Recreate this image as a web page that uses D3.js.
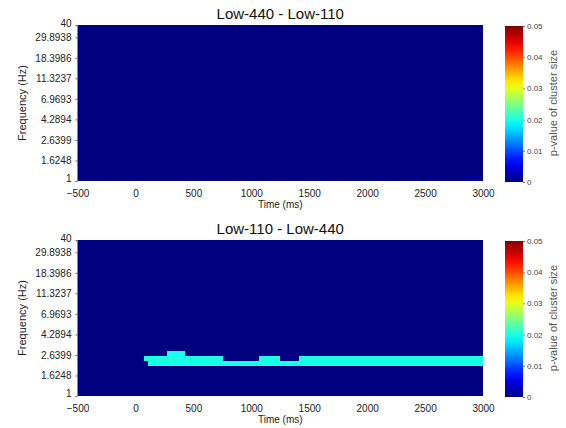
<!DOCTYPE html>
<html>
<head>
<meta charset="utf-8">
<script src="https://cdn.jsdelivr.net/npm/d3@7"></script>
<style>
  body { margin: 0; background: #fff; }
  text { font-family: "Liberation Sans", Arial, sans-serif; }
</style>
</head>
<body>
<div id="chart"></div>
<script>
// values
var titles = ["Low-440 - Low-110", "Low-110 - Low-440"];
var timeDomain = [-500, 3000];
var freqDomain = [1, 40];
var xTicks = [-500, 0, 500, 1000, 1500, 2000, 2500, 3000];
var yTicks = [1, 1.6248, 2.6399, 4.2894, 6.9693, 11.3237, 18.3986, 29.8938, 40];
var cbTicks = [0, 0.01, 0.02, 0.03, 0.04, 0.05];
var cbDomain = [0, 0.05];

// significant cluster cells (only in the second contrast)
var clusterPanel = [1, 1, 1, 1, 1];
var clusterTimeStart = [110, 70, 1070, 1410, 275];
var clusterTimeEnd = [3000, 760, 1250, 3000, 425];
var clusterFreqLow = [2.05, 2.30, 2.30, 2.30, 2.59];
var clusterFreqHigh = [2.30, 2.59, 2.59, 2.59, 2.92];
var clusterP = [0.02, 0.02, 0.02, 0.02, 0.02];

var width = 566, height = 428;
var plotLeft = 77.5, plotRight = 483, plotH = 156;
var panelTops = [25, 240];
var cbLeft = 505, cbW = 18;

// matlab "jet"
function jet(v) {
  var c = function(x) { return Math.max(0, Math.min(1, x)); };
  var r = c(1.5 - Math.abs(4 * v - 3)),
      g = c(1.5 - Math.abs(4 * v - 2)),
      b = c(1.5 - Math.abs(4 * v - 1));
  return d3.rgb(r * 255, g * 255, b * 255).formatHex();
}
var color = d3.scaleSequential(jet).domain(cbDomain);

var svg = d3.select("#chart").append("svg")
  .attr("width", width)
  .attr("height", height);

var defs = svg.append("defs");
var grad = defs.append("linearGradient")
  .attr("id", "jetgrad")
  .attr("x1", 0).attr("y1", 1).attr("x2", 0).attr("y2", 0);
d3.range(0, 1.0001, 0.05).forEach(function(t) {
  grad.append("stop").attr("offset", t).attr("stop-color", jet(t));
});

var x = d3.scaleLinear().domain(timeDomain).range([plotLeft, plotRight]);

panelTops.forEach(function(top, pi) {
  var y = d3.scaleLog().domain(freqDomain).range([top + plotH, top]);
  var g = svg.append("g");

  g.append("rect")
    .attr("x", plotLeft).attr("y", top)
    .attr("width", plotRight - plotLeft).attr("height", plotH)
    .attr("fill", color(0));

  var idx = d3.range(clusterP.length).filter(function(i) { return clusterPanel[i] === pi; });
  g.selectAll(".cell")
    .data(idx)
    .enter()
    .append("rect")
    .attr("class", "cell")
    .attr("x", function(i) { return x(clusterTimeStart[i]); })
    .attr("width", function(i) { return x(clusterTimeEnd[i]) - x(clusterTimeStart[i]); })
    .attr("y", function(i) { return y(clusterFreqHigh[i]); })
    .attr("height", function(i) { return y(clusterFreqLow[i]) - y(clusterFreqHigh[i]); })
    .attr("fill", function(i) { return color(clusterP[i]); })
    .attr("shape-rendering", "crispEdges");

  var xAxis = g.append("g")
    .attr("transform", "translate(0," + (top + plotH) + ")")
    .call(d3.axisBottom(x).tickValues(xTicks).tickSize(0).tickPadding(9)
      .tickFormat(function(d) { return d < 0 ? "\u2212" + (-d) : d; }));
  xAxis.select(".domain").remove();
  xAxis.selectAll("text").attr("font-size", 10).attr("fill", "#222");

  var yAxis = g.append("g")
    .attr("transform", "translate(" + plotLeft + ",0)")
    .call(d3.axisLeft(y).tickValues(yTicks).tickSize(2).tickPadding(4)
      .tickFormat(function(d) { return d; }));
  yAxis.select(".domain").remove();
  yAxis.selectAll("line").attr("stroke", "#666");
  yAxis.selectAll("text").attr("font-size", 10).attr("fill", "#222");
  yAxis.selectAll(".tick").filter(function(d) { return d === 40; })
    .select("text").attr("dy", "0.1em");
  yAxis.selectAll(".tick").filter(function(d) { return d === 1; })
    .select("text").attr("dy", "0.05em");

  g.append("text")
    .attr("x", (plotLeft + plotRight) / 2)
    .attr("y", top - 6)
    .attr("text-anchor", "middle")
    .attr("font-size", 15)
    .attr("fill", "#111")
    .text(titles[pi]);

  g.append("text")
    .attr("x", (plotLeft + plotRight) / 2)
    .attr("y", top + plotH + 27)
    .attr("text-anchor", "middle")
    .attr("font-size", 10)
    .attr("fill", "#222")
    .text("Time (ms)");

  g.append("text")
    .attr("transform", "translate(26," + (top + plotH / 2) + ") rotate(-90)")
    .attr("text-anchor", "middle")
    .attr("font-size", 11)
    .attr("fill", "#222")
    .text("Frequency (Hz)");

  // colorbar
  var cy = d3.scaleLinear().domain(cbDomain).range([top + plotH + 1, top + 1]);
  g.append("rect")
    .attr("x", cbLeft).attr("y", top + 1)
    .attr("width", cbW).attr("height", plotH)
    .attr("fill", "url(#jetgrad)");
  var cAxis = g.append("g")
    .attr("transform", "translate(" + (cbLeft + cbW) + ",0)")
    .call(d3.axisRight(cy).tickValues(cbTicks).tickSize(2).tickPadding(2)
      .tickFormat(function(d) { return d === 0 ? "0" : d3.format(".2f")(d); }));
  cAxis.select(".domain").remove();
  cAxis.selectAll("line").attr("stroke", "#777");
  cAxis.selectAll("text").attr("font-size", 8).attr("fill", "#444");

  g.append("text")
    .attr("transform", "translate(" + 557 + "," + (top + plotH / 2) + ") rotate(-90)")
    .attr("text-anchor", "middle")
    .attr("font-size", 11)
    .attr("fill", "#555")
    .text("p-value of cluster size");
});
</script>
</body>
</html>
